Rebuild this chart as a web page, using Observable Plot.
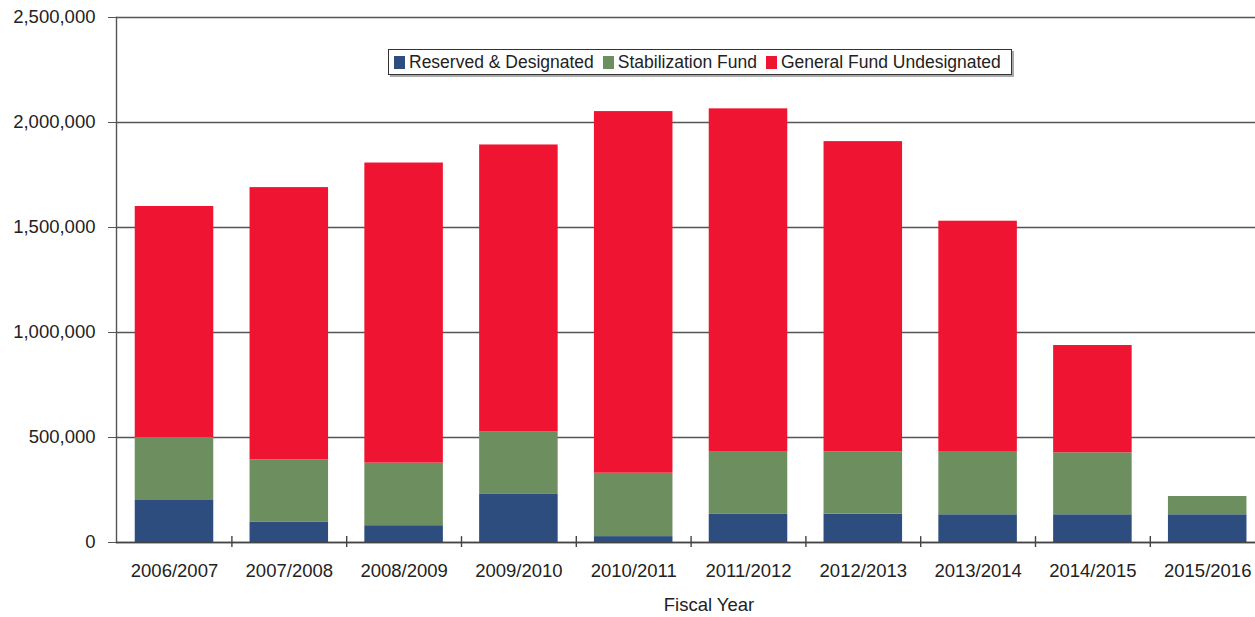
<!DOCTYPE html>
<html>
<head>
<meta charset="utf-8">
<script src="https://cdn.jsdelivr.net/npm/d3@7"></script>
<script src="https://cdn.jsdelivr.net/npm/@observablehq/plot@0.6"></script>
<style>
  html, body { margin: 0; padding: 0; background: #fff; }
  #wrap { position: relative; width: 1255px; height: 617px; font-family: "Liberation Sans", Arial, sans-serif; }
  #legend {
    position: absolute; left: 388px; top: 49px; width: 617px; height: 24px;
    border: 1.5px solid #333; box-shadow: 2px 2px 0 #aaa; background: #fff;
    display: flex; align-items: center; font-size: 17.5px; color: #222; white-space: nowrap;
    padding-left: 5px; box-sizing: content-box;
  }
  #legend .item { display: flex; align-items: center; margin-right: 9px; }
  #legend .sw { width: 11px; height: 13px; margin-right: 4px; }
</style>
</head>
<body>
<div id="wrap"></div>
<script>
// ---- data ----
const years = ["2006/2007", "2007/2008", "2008/2009", "2009/2010", "2010/2011",
               "2011/2012", "2012/2013", "2013/2014", "2014/2015", "2015/2016"];
const seriesNames = ["Reserved & Designated", "Stabilization Fund", "General Fund Undesignated"];
const reserved      = [200000,  96000,   80000,   229000,  28000,   136000,  135000,  132000,  132000, 132000];
const stabilization = [300000,  298000,  298000,  299000,  302000,  297000,  297000,  298000,  295000, 87000];
const undesignated  = [1100000, 1296000, 1429000, 1365000, 1722000, 1632000, 1477000, 1100000, 511000, 0];
const yTicks = [0, 500000, 1000000, 1500000, 2000000, 2500000];
const seriesColors = ["#2c4d7d", "#6d8e5f", "#ef1431"];

// ---- table ----
const rows = [];
years.forEach((yr, i) => {
  rows.push({year: yr, series: seriesNames[0], value: reserved[i]});
  rows.push({year: yr, series: seriesNames[1], value: stabilization[i]});
  rows.push({year: yr, series: seriesNames[2], value: undesignated[i]});
});

const W = 1255, H = 617;
const xRange = [116.6, 1264.6];
const step = (xRange[1] - xRange[0]) / years.length;
const font = "Liberation Sans, Arial, sans-serif";

const chart = Plot.plot({
  width: W,
  height: H,
  marginTop: 17,
  marginBottom: 75,
  marginLeft: 116,
  marginRight: 0,
  style: {fontFamily: font, fontSize: "18.5px", color: "#222", background: "#fff"},
  x: {domain: years, range: xRange, paddingInner: 0.316, paddingOuter: 0.158, round: false, label: null},
  y: {domain: [0, 2500000], label: null},
  color: {domain: seriesNames, range: seriesColors},
  marks: [
    Plot.ruleY(yTicks, {stroke: "#555", strokeWidth: 1.4}),
    Plot.barY(rows, {x: "year", y: "value", fill: "series"}),
    Plot.frame({anchor: "left", stroke: "#555", strokeWidth: 1.4}),
    Plot.ruleY([0], {stroke: "#444", strokeWidth: 1.6}),
    Plot.ruleX(years.slice(1), {x: d => d, dx: -step / 2, y1: 28000, y2: -24000, stroke: "#444", strokeWidth: 1.4}),
    Plot.axisY({ticks: yTicks, tickFormat: d3.format(","), tickSize: 8, tickPadding: 13,
                stroke: "#555", fill: "#222", fontSize: 18.5, label: null}),
    Plot.axisX({tickSize: 0, tickPadding: 21, fill: "#222", fontSize: 18.5, label: null}),
    Plot.text(["Fiscal Year"], {text: d => d, frameAnchor: "bottom", dy: 63, dx: 23,
                lineAnchor: "middle", fontSize: 18.5, fill: "#222"})
  ]
});

const wrap = document.getElementById("wrap");
wrap.appendChild(chart);

// legend (inside plot area, like the reference)
const legend = document.createElement("div");
legend.id = "legend";
seriesNames.forEach((name, i) => {
  const item = document.createElement("div");
  item.className = "item";
  const sw = document.createElement("span");
  sw.className = "sw";
  sw.style.background = seriesColors[i];
  const label = document.createElement("span");
  label.textContent = name;
  item.appendChild(sw);
  item.appendChild(label);
  legend.appendChild(item);
});
wrap.appendChild(legend);
</script>
</body>
</html>
